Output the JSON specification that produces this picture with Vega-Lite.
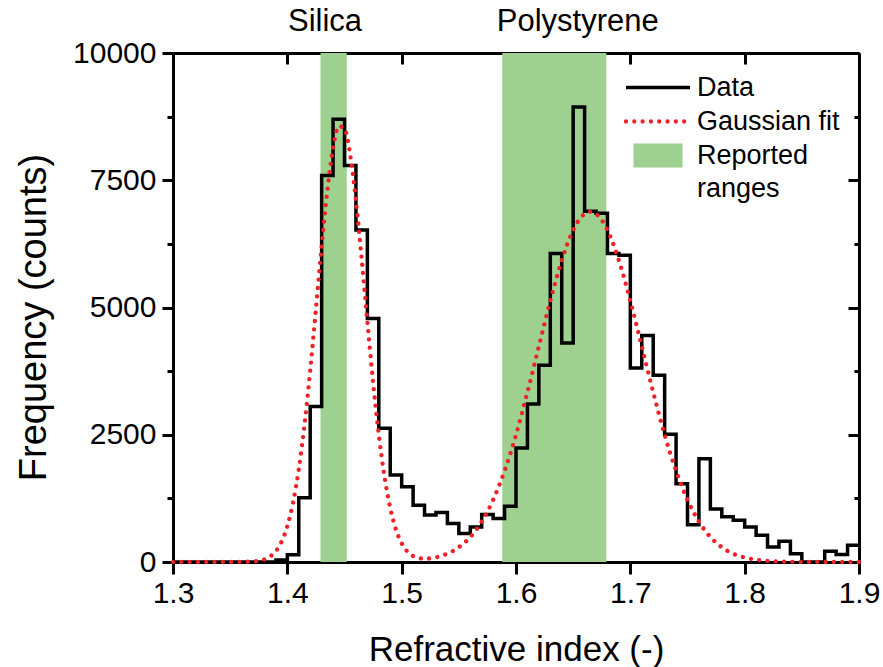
{
  "$schema": "https://vega.github.io/schema/vega-lite/v6.json",
  "width": 686,
  "height": 509,
  "autosize": {"type": "none"},
  "padding": {"left": 173, "top": 53, "right": 24, "bottom": 105},
  "background": "white",
  "config": {
    "view": {"stroke": null},
    "font": "Liberation Sans",
    "axis": {
      "grid": false,
      "labelFont": "Liberation Sans",
      "titleFont": "Liberation Sans",
      "labelColor": "black",
      "titleColor": "black",
      "tickColor": "black",
      "domainColor": "black",
      "domainWidth": 3,
      "tickWidth": 3,
      "titleFontWeight": "normal",
      "labelFontSize": 30,
      "titleFontSize": 35
    }
  },
  "datasets": {
    "bands": [
      {"material": "Silica", "start": 1.429, "end": 1.452},
      {"material": "Polystyrene", "start": 1.588, "end": 1.679}
    ],
    "labels": [
      {"label": "Silica", "x": 1.433},
      {"label": "Polystyrene", "x": 1.654}
    ],
    "hist": [
      {"ri": 1.30, "count": 0}, {"ri": 1.31, "count": 0}, {"ri": 1.32, "count": 0},
      {"ri": 1.33, "count": 0}, {"ri": 1.34, "count": 0}, {"ri": 1.35, "count": 0},
      {"ri": 1.36, "count": 0}, {"ri": 1.37, "count": 0}, {"ri": 1.38, "count": 0},
      {"ri": 1.39, "count": 40}, {"ri": 1.40, "count": 140}, {"ri": 1.41, "count": 1262},
      {"ri": 1.42, "count": 3057}, {"ri": 1.43, "count": 7592}, {"ri": 1.44, "count": 8697},
      {"ri": 1.45, "count": 7789}, {"ri": 1.46, "count": 6521}, {"ri": 1.47, "count": 4786},
      {"ri": 1.48, "count": 2629}, {"ri": 1.49, "count": 1709}, {"ri": 1.50, "count": 1479},
      {"ri": 1.51, "count": 1117}, {"ri": 1.52, "count": 921}, {"ri": 1.53, "count": 973},
      {"ri": 1.54, "count": 756}, {"ri": 1.55, "count": 559}, {"ri": 1.56, "count": 690},
      {"ri": 1.57, "count": 935}, {"ri": 1.58, "count": 854}, {"ri": 1.59, "count": 1095},
      {"ri": 1.60, "count": 2240}, {"ri": 1.61, "count": 3102}, {"ri": 1.62, "count": 3865},
      {"ri": 1.63, "count": 6060}, {"ri": 1.64, "count": 4305}, {"ri": 1.65, "count": 8939},
      {"ri": 1.66, "count": 6890}, {"ri": 1.67, "count": 6850}, {"ri": 1.68, "count": 6060},
      {"ri": 1.69, "count": 6028}, {"ri": 1.70, "count": 3812}, {"ri": 1.71, "count": 4451},
      {"ri": 1.72, "count": 3668}, {"ri": 1.73, "count": 2511}, {"ri": 1.74, "count": 1535},
      {"ri": 1.75, "count": 730}, {"ri": 1.76, "count": 2030}, {"ri": 1.77, "count": 1039},
      {"ri": 1.78, "count": 887}, {"ri": 1.79, "count": 822}, {"ri": 1.80, "count": 690},
      {"ri": 1.81, "count": 526}, {"ri": 1.82, "count": 296}, {"ri": 1.83, "count": 408},
      {"ri": 1.84, "count": 164}, {"ri": 1.85, "count": 0}, {"ri": 1.86, "count": 0},
      {"ri": 1.87, "count": 210}, {"ri": 1.88, "count": 145}, {"ri": 1.89, "count": 329},
      {"ri": 1.90, "count": 329}
    ],
    "fit": [
      {"ri": 1.30, "fit": 0}, {"ri": 1.31, "fit": 0}, {"ri": 1.32, "fit": 0},
      {"ri": 1.33, "fit": 0}, {"ri": 1.34, "fit": 0}, {"ri": 1.35, "fit": 0},
      {"ri": 1.36, "fit": 2}, {"ri": 1.37, "fit": 10}, {"ri": 1.38, "fit": 53},
      {"ri": 1.385, "fit": 110}, {"ri": 1.39, "fit": 216}, {"ri": 1.395, "fit": 401},
      {"ri": 1.40, "fit": 703}, {"ri": 1.405, "fit": 1164}, {"ri": 1.41, "fit": 1822},
      {"ri": 1.415, "fit": 2693}, {"ri": 1.42, "fit": 3763}, {"ri": 1.425, "fit": 4968},
      {"ri": 1.43, "fit": 6197}, {"ri": 1.435, "fit": 7304}, {"ri": 1.44, "fit": 8135},
      {"ri": 1.445, "fit": 8561}, {"ri": 1.45, "fit": 8512}, {"ri": 1.455, "fit": 7998},
      {"ri": 1.46, "fit": 7100}, {"ri": 1.465, "fit": 5956}, {"ri": 1.47, "fit": 4722},
      {"ri": 1.475, "fit": 3536}, {"ri": 1.48, "fit": 2504}, {"ri": 1.485, "fit": 1676},
      {"ri": 1.49, "fit": 1062}, {"ri": 1.495, "fit": 638}, {"ri": 1.50, "fit": 366},
      {"ri": 1.505, "fit": 205}, {"ri": 1.51, "fit": 118}, {"ri": 1.515, "fit": 77},
      {"ri": 1.52, "fit": 65}, {"ri": 1.53, "fit": 91}, {"ri": 1.54, "fit": 164},
      {"ri": 1.55, "fit": 290}, {"ri": 1.56, "fit": 491}, {"ri": 1.57, "fit": 793},
      {"ri": 1.58, "fit": 1220}, {"ri": 1.59, "fit": 1790}, {"ri": 1.60, "fit": 2502},
      {"ri": 1.61, "fit": 3335}, {"ri": 1.62, "fit": 4237}, {"ri": 1.63, "fit": 5131},
      {"ri": 1.64, "fit": 5924}, {"ri": 1.65, "fit": 6520}, {"ri": 1.66, "fit": 6839},
      {"ri": 1.665, "fit": 6880}, {"ri": 1.67, "fit": 6839}, {"ri": 1.68, "fit": 6520},
      {"ri": 1.69, "fit": 5924}, {"ri": 1.70, "fit": 5131}, {"ri": 1.71, "fit": 4237},
      {"ri": 1.72, "fit": 3335}, {"ri": 1.73, "fit": 2502}, {"ri": 1.74, "fit": 1790},
      {"ri": 1.75, "fit": 1220}, {"ri": 1.76, "fit": 793}, {"ri": 1.77, "fit": 491},
      {"ri": 1.78, "fit": 290}, {"ri": 1.79, "fit": 163}, {"ri": 1.80, "fit": 88},
      {"ri": 1.81, "fit": 45}, {"ri": 1.82, "fit": 22}, {"ri": 1.83, "fit": 10},
      {"ri": 1.84, "fit": 5}, {"ri": 1.85, "fit": 2}, {"ri": 1.86, "fit": 1},
      {"ri": 1.87, "fit": 0}, {"ri": 1.88, "fit": 0}, {"ri": 1.89, "fit": 0},
      {"ri": 1.90, "fit": 0}
    ]
  },
  "resolve": {"axis": {"x": "independent", "y": "independent"}},
  "layer": [
    {
      "data": {"name": "bands"},
      "mark": {"type": "rect"},
      "encoding": {
        "x": {
          "field": "start", "type": "quantitative",
          "scale": {"domain": [1.3, 1.9], "nice": false, "zero": false},
          "axis": {
            "orient": "bottom", "title": "Refractive index (-)",
            "values": [1.3, 1.4, 1.5, 1.6, 1.7, 1.8, 1.9], "format": ".1f",
            "tickSize": 12, "labelPadding": 4, "titlePadding": 24, "labelFlush": false
          }
        },
        "x2": {"field": "end"},
        "y": {
          "datum": 0, "type": "quantitative",
          "scale": {"domain": [0, 10000], "nice": false, "zero": false},
          "axis": {
            "orient": "left", "title": "Frequency (counts)", "titleFontSize": 38,
            "titleY": 264,
            "values": [0, 2500, 5000, 7500, 10000], "format": "d",
            "tickSize": 11, "labelPadding": 6, "titlePadding": 19, "labelFlush": false
          }
        },
        "y2": {"datum": 10000},
        "color": {
          "datum": "Reported ranges",
          "scale": {
            "domain": ["Data", "Gaussian fit", "Reported ranges"],
            "range": ["#000000", "#ee2226", "#9ed08f"]
          },
          "legend": {
            "orient": "none", "legendX": 453, "legendY": 21,
            "title": null, "padding": 0,
            "symbolSize": 4096, "symbolType": "stroke",
            "labelFontSize": 27, "labelFont": "Liberation Sans", "labelColor": "black",
            "labelOffset": 7, "rowPadding": 6, "labelLimit": 300,
            "labelExpr": "datum.label === 'Reported ranges' ? ['Reported', 'ranges'] : datum.label",
            "encode": {
              "symbols": {
                "update": {
                  "x": {"value": 32},
                  "size": {"value": 4096},
                  "shape": {"signal": "datum.value === 'Reported ranges' ? 'M-0.766,-0.375H0.766V0.375H-0.766Z' : 'stroke'"},
                  "strokeDash": {"signal": "datum.value === 'Gaussian fit' ? [0.01, 8.3] : [1, 0]"},
                  "strokeCap": {"signal": "datum.value === 'Gaussian fit' ? 'round' : 'butt'"},
                  "strokeWidth": {"signal": "datum.value === 'Gaussian fit' ? 4.3 : (datum.value === 'Data' ? 3.5 : 0)"},
                  "fill": {"signal": "datum.value === 'Reported ranges' ? '#9ed08f' : 'transparent'"},
                  "stroke": {"signal": "datum.value === 'Data' ? '#000000' : (datum.value === 'Gaussian fit' ? '#ee2226' : 'transparent')"},
                  "opacity": {"value": 1}
                }
              },
              "labels": {
                "update": {"x": {"value": 71}, "lineHeight": {"value": 33}}
              }
            }
          }
        }
      }
    },
    {
      "data": {"name": "hist"},
      "mark": {"type": "line", "interpolate": "step-after", "strokeWidth": 3.5, "strokeJoin": "miter"},
      "encoding": {
        "x": {
          "field": "ri", "type": "quantitative",
          "axis": {"orient": "top", "title": null, "labels": false, "values": [1.3, 1.4, 1.5, 1.6, 1.7, 1.8, 1.9], "tickSize": -11}
        },
        "y": {
          "field": "count", "type": "quantitative",
          "axis": {"orient": "left", "title": null, "labels": false, "domain": false, "values": [1250, 3750, 6250, 8750], "tickSize": 6}
        },
        "color": {"datum": "Data"}
      }
    },
    {
      "data": {"name": "fit"},
      "mark": {"type": "line", "interpolate": "monotone", "strokeWidth": 4.3, "strokeDash": [0.01, 8.3], "strokeCap": "round"},
      "encoding": {
        "x": {"field": "ri", "type": "quantitative", "axis": null},
        "y": {
          "field": "fit", "type": "quantitative",
          "axis": {"orient": "right", "title": null, "labels": false, "values": [0, 2500, 5000, 7500, 10000], "tickSize": -11}
        },
        "color": {"datum": "Gaussian fit"}
      }
    },
    {
      "data": {"name": "labels"},
      "mark": {"type": "text", "fontSize": 31, "font": "Liberation Sans", "baseline": "middle", "align": "center", "color": "black"},
      "encoding": {
        "x": {"field": "x", "type": "quantitative", "axis": null},
        "y": {
          "datum": 10600, "type": "quantitative",
          "axis": {"orient": "right", "title": null, "labels": false, "domain": false, "values": [1250, 3750, 6250, 8750], "tickSize": -5}
        },
        "text": {"field": "label"}
      }
    }
  ]
}
